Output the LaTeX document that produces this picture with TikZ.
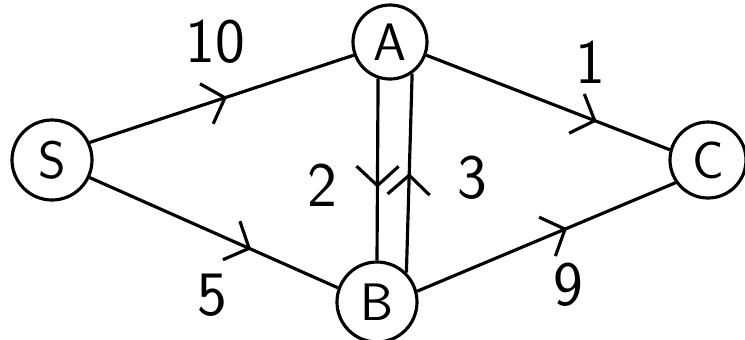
\documentclass[tikz,border=0pt]{standalone}
\usetikzlibrary{arrows.meta,decorations.markings}
\begin{document}
\begin{tikzpicture}[x=0.02cm,y=-0.02cm,
  vert/.style={circle,draw,line width=1.8pt,font=\sffamily\fontsize{30}{30}\selectfont,inner sep=0pt},
  edge/.style={line width=1.8pt},
  lbl/.style={font=\sffamily\fontsize{36}{36}\selectfont,inner sep=0pt},
  midarrow/.style={postaction={decorate},decoration={markings,mark=at position #1 with {\arrow[line width=1.8pt]{Straight Barb[length=11pt,width=24pt]}}}}]
\useasboundingbox (0,0) rectangle (745,339);
\node[vert,minimum size=80*0.02cm] (S) at (52,160) {S};
\node[vert,minimum size=74*0.02cm] (A) at (390,42) {A};
\node[vert,minimum size=80*0.02cm] (B) at (377,302) {B};
\node[vert,minimum size=76*0.02cm] (C) at (708,160) {C};
\draw[edge,midarrow=0.52] (S.25) -- (A.200);
\draw[edge,midarrow=0.65] (S.-25) -- (B.160);
\draw[edge,midarrow=0.70] (A.-20) -- (C.165);
\draw[edge,midarrow=0.58] (B.15) -- (C.215);
\draw[edge,midarrow=0.6] (A.252) -- (B.90);
\draw[edge,midarrow=0.5] (B.45) -- (A.305);
\node[lbl] (l10) at (215,42) {10};
\node[lbl] (l5) at (212,295) {5};
\node[lbl] (l1) at (590,62) {1};
\node[lbl] (l9) at (568,285) {9};
\node[lbl] (l2) at (322,185) {2};
\node[lbl] (l3) at (472,178) {3};
\end{tikzpicture}
\end{document}
